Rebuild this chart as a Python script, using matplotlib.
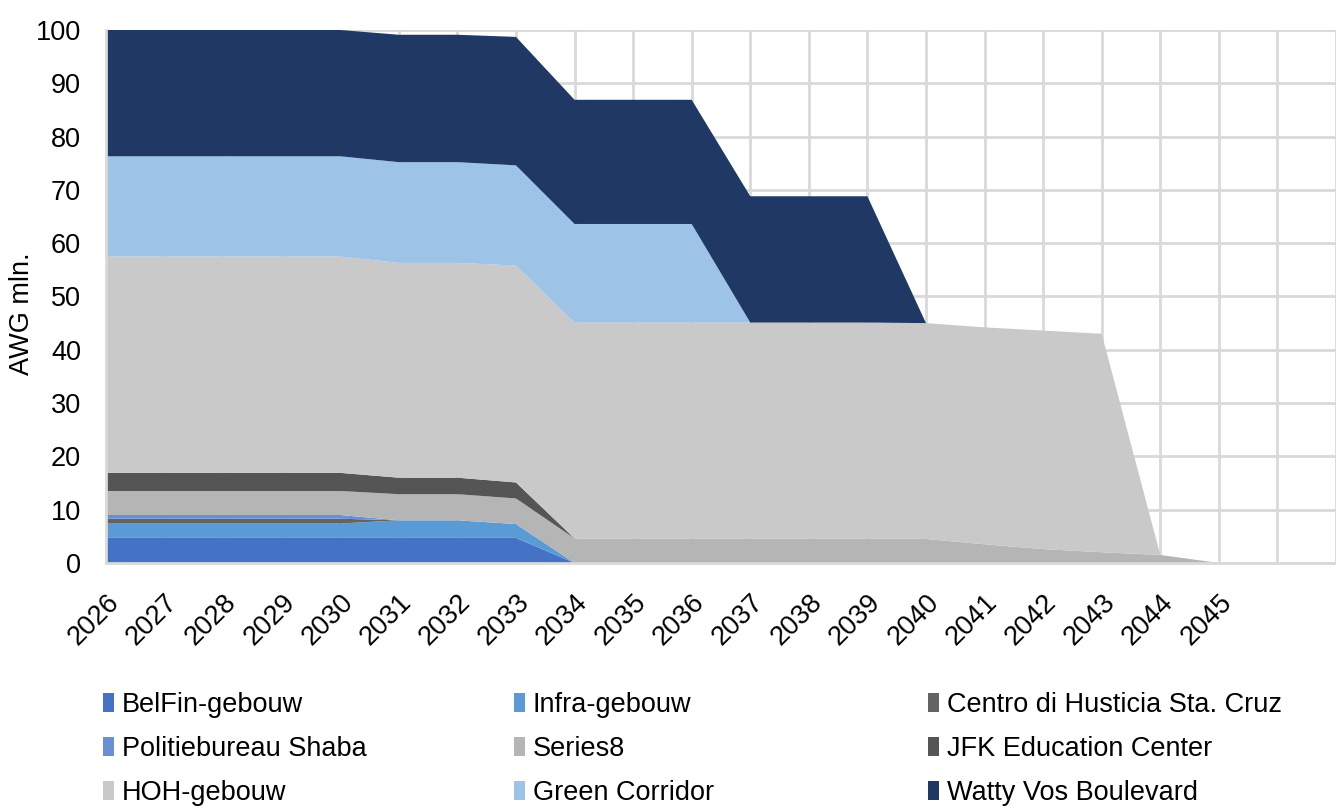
import numpy as np
import matplotlib
matplotlib.use("Agg")
import matplotlib.pyplot as plt
from matplotlib.patches import Patch

plt.rcParams["font.family"] = ["Liberation Sans", "DejaVu Sans"]

# ---------------------------------------------------------------------------
# Data (AWG mln., stacked bottom -> top)
# ---------------------------------------------------------------------------
years = [str(y) for y in range(2026, 2046)]
extra_slots = 2  # empty categories to the right of 2045

belfin = [4.7] * 8 + [0] * 12
infra = [2.7] * 5 + [3.3, 3.3, 2.6] + [0] * 12
centro = [0.9] * 5 + [0] * 15
politie = [0.7] * 5 + [0] * 15
series8 = [4.5] * 5 + [4.9, 4.9, 4.8] + [4.6] * 6 + [4.5, 3.5, 2.6, 2.0, 1.5, 0]
jfk = [3.4] * 5 + [3.1, 3.1, 3.0] + [0] * 12
hoh = [40.6] * 5 + [40.3, 40.3, 40.7] + [40.5] * 6 + [40.5, 40.7, 41.0, 41.0, 0, 0]
green = [18.8] * 5 + [18.9, 18.9, 18.8] + [18.5] * 3 + [0] * 9
watty = [23.7] * 5 + [23.9, 23.9, 24.1] + [23.3] * 3 + [23.7] * 3 + [0] * 6

series = [
    ("BelFin-gebouw", belfin, "#4472C4"),
    ("Infra-gebouw", infra, "#5B9BD5"),
    ("Centro di Husticia Sta. Cruz", centro, "#636363"),
    ("Politiebureau Shaba", politie, "#6A8FD4"),
    ("Series8", series8, "#B5B5B5"),
    ("JFK Education Center", jfk, "#555555"),
    ("HOH-gebouw", hoh, "#C9C9C9"),
    ("Green Corridor", green, "#9DC3E6"),
    ("Watty Vos Boulevard", watty, "#203864"),
]

# ---------------------------------------------------------------------------
# Plot
# ---------------------------------------------------------------------------
FS = 19.5
grid_c = "#D9D9D9"

fig = plt.figure(figsize=(13.36, 8.10), dpi=100)
ax = fig.add_axes([0.0793, 0.305, 0.9207, 0.658])

x = np.arange(len(years))
ax.stackplot(x, *[s[1] for s in series], colors=[s[2] for s in series],
             linewidth=0, zorder=2)

n_slots = len(years) + extra_slots
ax.set_xlim(0, n_slots - 1)
ax.set_ylim(0, 100)
ax.set_xticks(range(n_slots))
ax.set_xticklabels(years + [""] * extra_slots, rotation=45, ha="right",
                   rotation_mode="anchor", fontsize=FS)
ax.set_yticks(range(0, 101, 10))
ax.tick_params(axis="both", length=0, labelsize=FS, colors="black")
ax.tick_params(axis="x", pad=19)
ax.tick_params(axis="y", pad=18)

ax.grid(True, color=grid_c, linewidth=2, zorder=0)
ax.set_axisbelow(True)
for side in ("top", "right"):
    ax.spines[side].set_visible(False)
for side in ("left", "bottom"):
    ax.spines[side].set_color(grid_c)
    ax.spines[side].set_linewidth(2)

ax.set_ylabel("AWG mln.", fontsize=FS)
ax.yaxis.set_label_coords(-0.0577, 0.467)

# Legend: three separate columns so each can sit at its own x position
col_x = [0.0771, 0.3847, 0.6946]
for c in range(3):
    entries = series[c::3]
    handles = [Patch(facecolor=col, edgecolor="none") for _, _, col in entries]
    labels = [name for name, _, _ in entries]
    fig.legend(handles, labels, loc="upper left", bbox_to_anchor=(col_x[c], 0.1457),
               frameon=False, fontsize=FS, handlelength=0.42, handleheight=0.7,
               handletextpad=0.28, labelspacing=0.67, borderaxespad=0, borderpad=0)

fig.savefig("out.png", dpi=100)
